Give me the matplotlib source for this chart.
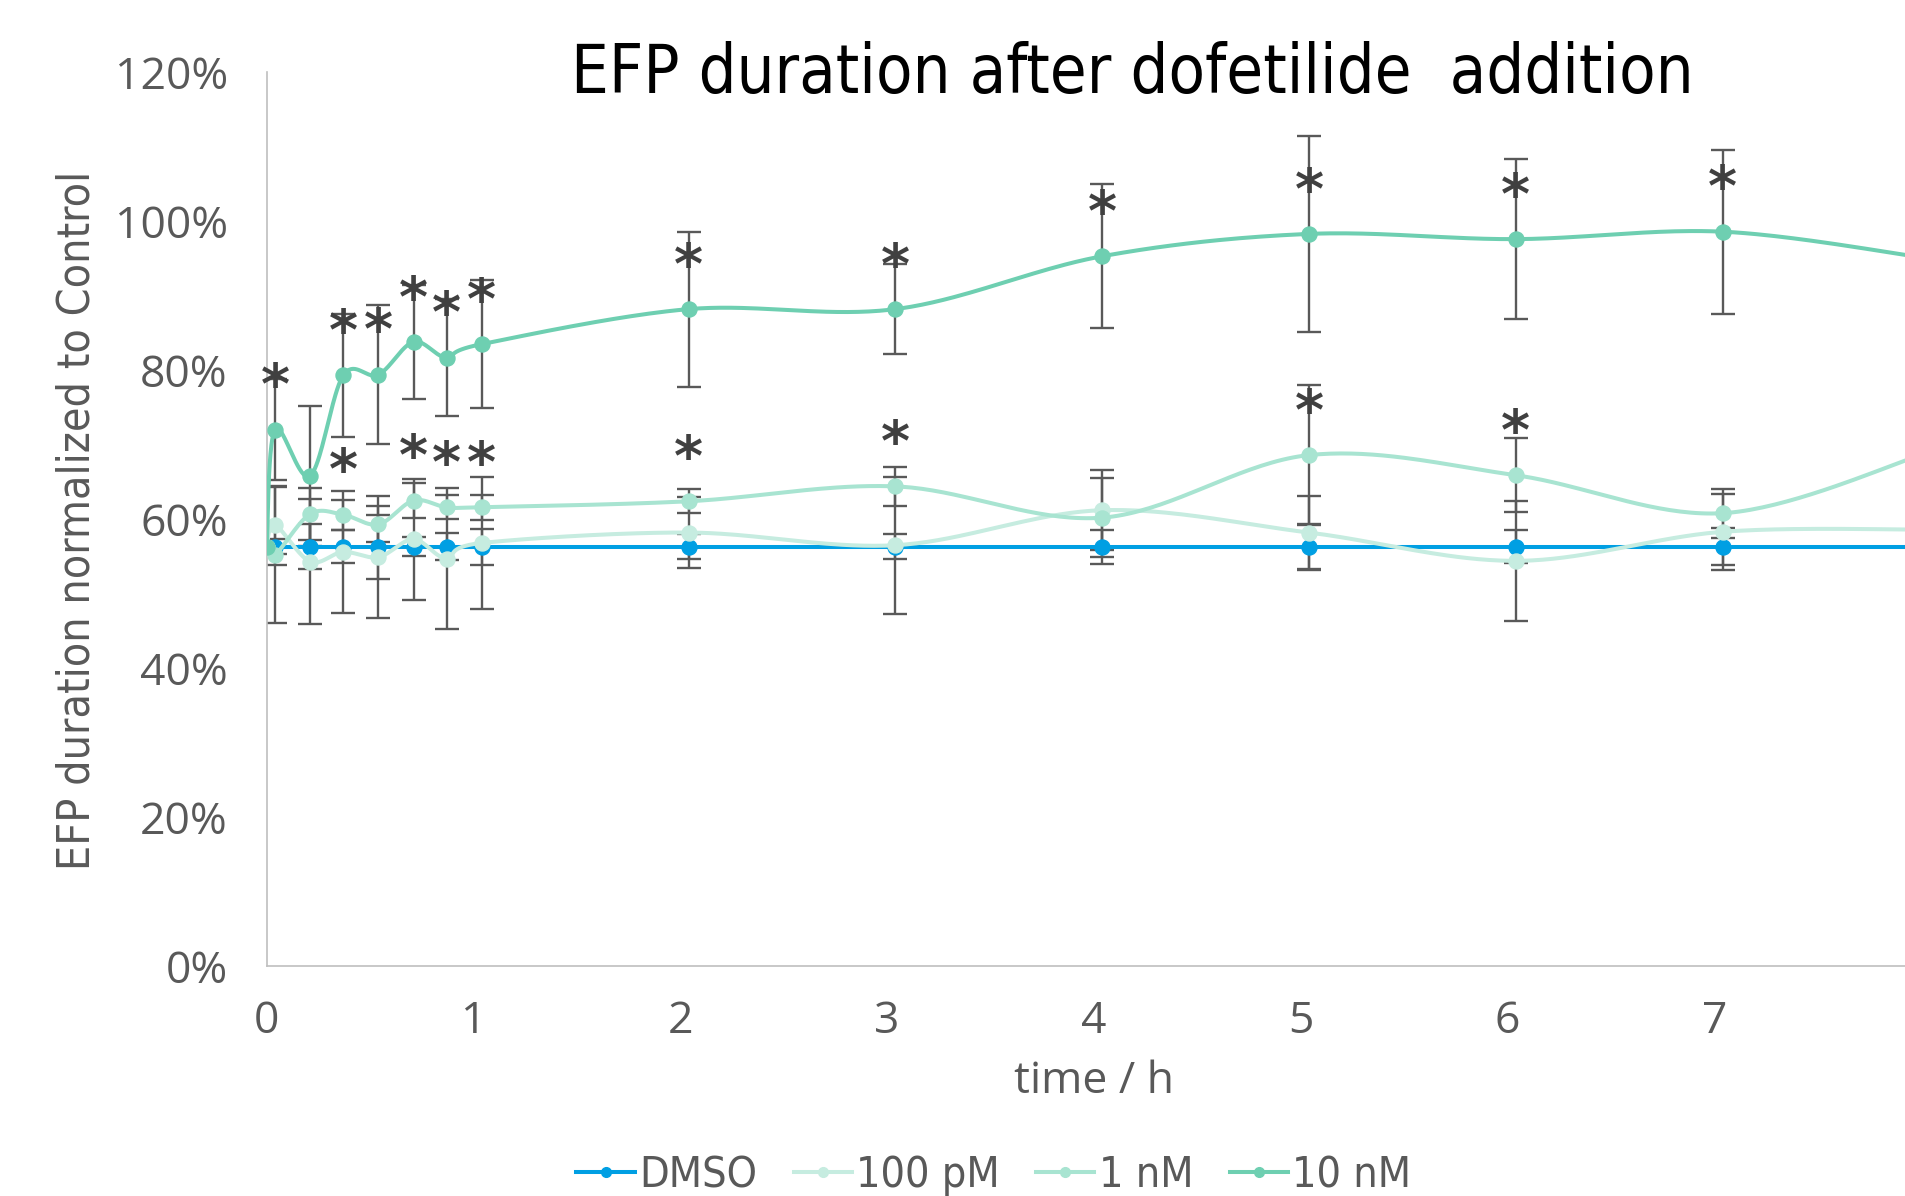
import numpy as np
import matplotlib
matplotlib.use("Agg")
import matplotlib.pyplot as plt
from matplotlib import font_manager
from matplotlib.font_manager import FontProperties
from matplotlib.ticker import PercentFormatter
from matplotlib.lines import Line2D

# time points (h)
time_h = [0, 0.04, 0.21, 0.37, 0.54, 0.71, 0.87, 1.04, 2.04, 3.04, 4.04, 5.04, 6.04, 7.04, 8.04]

# mean EFP duration normalised to control (%)
dmso = [56.3, 56.3, 56.3, 56.3, 56.3, 56.3, 56.3, 56.3, 56.3, 56.3, 56.3, 56.3, 56.3, 56.3, 56.3]
pm100 = [56.3, 59.2, 54.3, 55.6, 54.9, 57.3, 54.7, 56.8, 58.2, 56.5, 61.2, 58.2, 54.4, 58.3, 58.6]
nm1 = [56.3, 55.2, 60.7, 60.6, 59.3, 62.5, 61.6, 61.6, 62.4, 64.4, 60.2, 68.6, 65.9, 60.8, 69.0]
nm10 = [56.3, 72.0, 65.8, 79.3, 79.4, 83.8, 81.7, 83.5, 88.2, 88.2, 95.3, 98.3, 97.6, 98.6, 95.0]

# error (+/-, %)
dmso_err = [0, 1.0, 3.0, 2.2, 4.3, 1.3, 1.8, 2.4, 1.7, 1.7, 2.3, 3.1, 2.2, 2.5, 2.5]
pm100_err = [0, 5.3, 8.4, 8.2, 8.2, 8.1, 9.5, 8.9, 4.8, 9.2, 5.4, 4.9, 8.1, 5.1, 5.0]
nm1_err = [0, 9.1, 3.5, 2.0, 2.4, 2.3, 1.6, 1.7, 1.6, 2.6, 5.3, 9.4, 5.0, 3.3, 4.0]
nm10_err = [0, 6.8, 9.4, 8.3, 9.3, 7.7, 7.8, 8.6, 10.4, 6.0, 9.7, 13.2, 10.7, 11.0, 10.0]

# significance marks (1 = asterisk)
nm1_sig = [0, 0, 0, 1, 0, 1, 1, 1, 1, 1, 0, 1, 1, 0, 0]
nm10_sig = [0, 1, 0, 1, 1, 1, 1, 1, 1, 1, 1, 1, 1, 1, 0]

labels = ["DMSO", "100 pM", "1 nM", "10 nM"]
colors = ["#009FE3", "#C6ECE0", "#A8E4D1", "#6ECFB1"]

plain = "Open Sans"
grey = "#595959"


def find_condensed():
    # look for any condensed face, humanist ones first
    fonts = font_manager.fontManager.ttflist
    for fam in ["Noto Sans", "Open Sans", "Liberation Sans Narrow", "DejaVu Sans"]:
        for f in fonts:
            if f.name == fam and f.weight in (400, "normal", "regular") and f.style == "normal" \
                    and f.stretch in ("condensed", "semi-condensed", 75, 87.5):
                return FontProperties(fname=f.fname)
            if f.name == "Liberation Sans Narrow" and fam == f.name and f.weight in (400, "normal") \
                    and f.style == "normal":
                return FontProperties(fname=f.fname)
    return FontProperties(family=plain)


narrow = find_condensed()


def nfont(size):
    fp = narrow.copy()
    fp.set_size(size)
    return fp


def smooth(ax, x, y, n=40):
    # excel-like bezier smoothing done in screen space
    pts = ax.transData.transform(np.column_stack([x, y]))
    P = np.vstack([pts[0], pts, pts[-1]])
    out = []
    s = np.linspace(0, 1, n)[:, None]
    for i in range(1, len(P) - 2):
        p0, p1, p2, p3 = P[i - 1], P[i], P[i + 1], P[i + 2]
        c1 = p1 + (p2 - p0) / 6
        c2 = p2 - (p3 - p1) / 6
        seg = (1 - s) ** 3 * p1 + 3 * (1 - s) ** 2 * s * c1 + 3 * (1 - s) * s ** 2 * c2 + s ** 3 * p2
        out.append(seg)
    out = ax.transData.inverted().transform(np.vstack(out))
    return out[:, 0], out[:, 1]


fig = plt.figure(figsize=(19.06, 11.96), dpi=100)
ax = fig.add_axes([266.7 / 1906, 230 / 1196, 1 - 266.7 / 1906, 893.7 / 1196])
ax.set_xlim(0, (1906 - 266.7) / 206.8)
ax.set_ylim(0, 120)

series = [(dmso, dmso_err), (pm100, pm100_err), (nm1, nm1_err), (nm10, nm10_err)]

for (vals, errs), col, lab in zip(series, colors, labels):
    ax.errorbar(time_h, vals, yerr=errs, fmt="none", ecolor=grey, elinewidth=1.7,
                capsize=8.5, capthick=1.7, zorder=2)

for (vals, errs), col, lab in zip(series, colors, labels):
    sx, sy = smooth(ax, time_h, vals)
    ax.plot(sx, sy, color=col, lw=2.9, zorder=3, solid_capstyle="round")
    ax.plot(time_h, vals, "o", color=col, ms=10.8, zorder=3)

for vals, sig in [(nm1, nm1_sig), (nm10, nm10_sig)]:
    for t, v, s in zip(time_h, vals, sig):
        if s:
            ax.annotate("*", (t, v), xytext=(0, 19), textcoords="offset points",
                        ha="center", va="baseline", fontsize=40, color="#404040",
                        family="DejaVu Sans", fontweight="bold", zorder=4)

ax.yaxis.set_major_formatter(PercentFormatter(decimals=0))
ax.set_yticks(range(0, 121, 20))
ax.set_xticks(range(0, 8))
ax.tick_params(length=0, labelsize=32, labelcolor=grey)
ax.tick_params(axis="y", pad=28)
ax.tick_params(axis="x", pad=24)
for lbl in ax.get_xticklabels() + ax.get_yticklabels():
    lbl.set_family(plain)

for side in ["top", "right"]:
    ax.spines[side].set_visible(False)
for side in ["left", "bottom"]:
    ax.spines[side].set_color("#BFBFBF")
    ax.spines[side].set_linewidth(1.2)

fig.text(1132 / 1906, 1 - 74 / 1196, "EFP duration after dofetilide  addition",
         ha="center", va="center", color="black", fontproperties=nfont(48))
fig.text(77 / 1906, 1 - 520 / 1196, "EFP duration normalized to Control", rotation=90,
         ha="center", va="center", color=grey, fontproperties=nfont(32))
fig.text(1094 / 1906, 1 - 1082 / 1196, "time / h", ha="center", va="center",
         fontsize=32, color=grey, family=plain)

handles = [Line2D([], [], color=c, lw=2.9, marker="o", ms=7) for c in colors]
fig.legend(handles, labels, loc="center", bbox_to_anchor=(994 / 1906, 1 - 1175 / 1196),
           ncol=4, frameon=False, handlelength=1.35, handletextpad=0.1,
           columnspacing=0.85, labelcolor=grey, prop=nfont(31))

fig.savefig("out.png", dpi=100)
